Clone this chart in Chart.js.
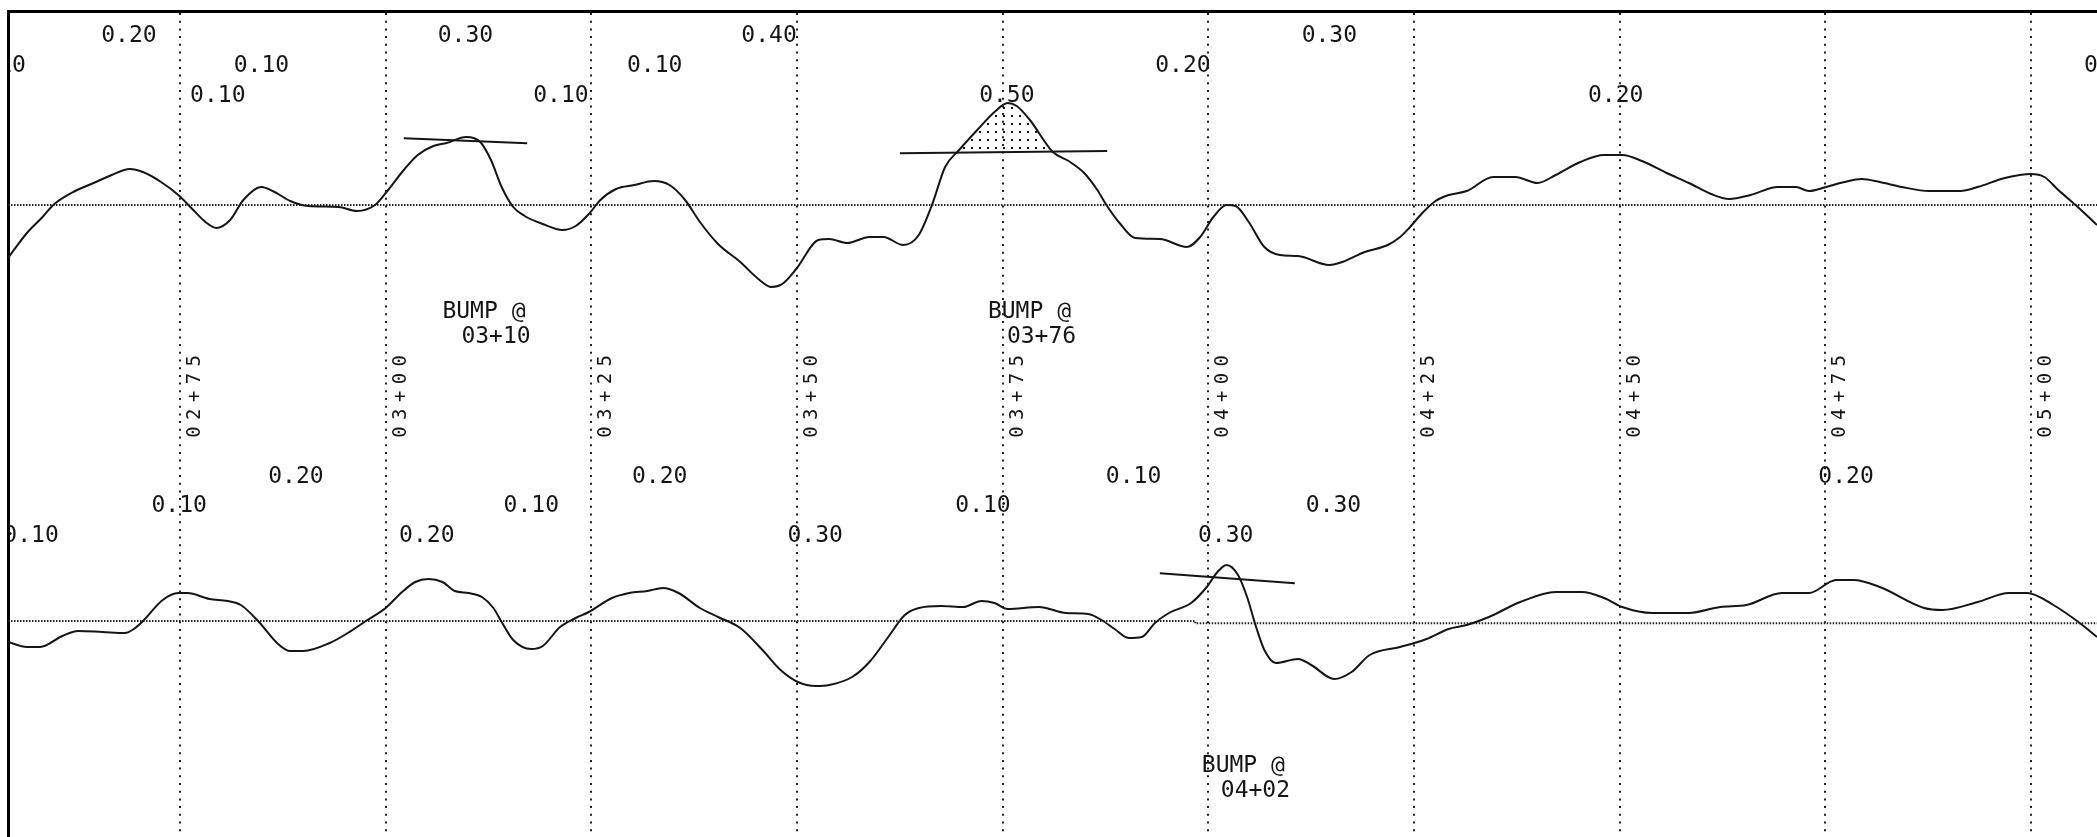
<!DOCTYPE html>
<html><head><meta charset="utf-8">
<script src="https://cdn.jsdelivr.net/npm/chart.js@4.4.1/dist/chart.umd.min.js"></script>
<style>html,body{margin:0;padding:0;background:#fff;overflow:hidden}canvas{display:block}</style>
</head><body>
<canvas id="c" width="2097" height="837"></canvas>
<script>
// ---- stationing (ft) ----
const X_MIN = 254.1, X_MAX = 508.0;
const stationValues = [275, 300, 325, 350, 375, 400, 425, 450, 475, 500];
const stationLabels = ['02+75','03+00','03+25','03+50','03+75','04+00','04+25','04+50','04+75','05+00'];

// ---- upper trace (deviation from its datum) ----
const topStations = [254.1,256.4,258.3,259.6,261.8,264.5,266.7,268.9,270.5,272.7,
  274.8,276.5,278.1,279.4,281.1,282.7,284.9,286.5,288.4,290.6,
  294.3,296.5,298.7,300.3,302.2,303.9,305.8,307.4,309.8,311.5,
  312.8,314.1,315.5,316.9,319.1,321.5,323.1,324.7,326.1,328.0,
  330.2,332.6,334.5,336.4,338.2,340.4,343.1,345.3,346.9,348.2,
  349.9,352.6,353.9,356.1,358.8,360.5,362.9,364.8,366.4,368.0,
  369.7,371.9,374.0,375.6,376.7,378.3,381.1,383.2,384.9,386.5,
  387.6,389.2,391.1,394.1,397.4,399.0,400.6,402.2,403.3,404.9,
  406.8,408.7,410.9,414.7,416.3,419.0,421.8,423.3,424.4,426.0,
  427.6,429.2,431.4,434.6,437.3,440.0,442.2,445.2,448.1,450.3,
  452.7,455.7,458.4,461.1,463.3,465.9,469.2,471.4,473.0,475.1,
  477.3,479.4,481.6,484.3,487.6,491.4,493.5,496.8,500.0,501.6,
  503.3,505.4,508.0];
const topValues = [-53,-28,-12,0,12,22,30,36,33,23,
  10,-4,-17,-23,-15,5,18,13,4,-1,
  -2,-6,0,15,35,50,59,62,68,63,
  45,18,-2,-11,-19,-25,-21,-9,5,16,
  20,24,20,5,-17,-39,-57,-74,-82,-79,
  -64,-35,-34,-38,-32,-32,-40,-30,0,38,
  55,75,93,102,99,85,53,43,32,15,
  0,-18,-33,-34,-42,-32,-12,0,-1,-17,
  -42,-50,-51,-60,-57,-47,-40,-32,-23,-8,
  4,10,14,28,28,22,30,43,50,50,
  44,32,22,11,6,10,18,18,14,18,
  23,26,23,18,14,14,18,27,31,28,
  15,0,-20];

// ---- lower trace ----
const botStations = [254.1,256.4,258.0,260.7,262.6,265.6,268.3,269.4,270.5,272.9,
  274.8,275.9,278.6,280.8,282.4,284.6,286.8,288.4,290.0,293.2,
  295.4,297.6,300.0,302.0,303.6,305.2,306.9,308.4,310.1,311.7,
  313.1,314.1,315.5,317.7,319.1,321.2,323.1,324.7,327.5,329.6,
  331.8,333.7,335.6,338.2,340.4,343.1,345.8,348.0,350.1,352.3,
  353.9,356.7,358.8,361.0,363.1,364.8,367.5,370.2,372.4,374.0,
  375.6,379.4,382.7,385.4,387.0,388.6,390.3,391.9,393.5,395.2,
  397.9,399.8,401.1,402.2,403.6,404.7,405.8,406.8,408.2,410.9,
  412.5,415.3,417.4,419.6,423.3,426.5,429.2,431.4,434.1,437.9,
  442.2,445.4,448.1,450.3,454.0,458.4,462.2,465.4,469.7,473.0,
  476.3,478.4,481.6,487.0,489.2,493.5,497.3,499.5,502.7,505.9,
  508.0];
const botValues = [-21,-26,-26,-15,-10,-11,-12,-8,0,21,
  28,28,22,20,16,-1,-22,-30,-30,-22,
  -12,0,13,29,39,42,39,30,28,24,
  13,-1,-19,-28,-25,-6,3,9,23,28,
  30,33,28,13,4,-7,-29,-49,-61,-65,
  -64,-56,-41,-17,6,13,15,14,20,18,
  12,14,8,7,1,-8,-17,-16,-2,8,
  18,34,49,56,46,24,-6,-29,-42,-38,
  -44,-58,-51,-34,-26,-18,-8,-4,4,19,
  29,29,23,14,8,8,14,16,28,28,
  41,41,34,13,11,19,28,28,16,-2,
  -16];

// ---- datums ----
const topDatumStations = [254.1, 508.0];
const topDatumValues = [0, 0];
const botDatumStations = [254.1, 398.4, 398.4, 508.0];
const botDatumValues = [0, 0, -2.3, -2.3];

// ---- blanking (bump template) lines ----
const bump1Stations = [302.2, 317.2];  const bump1Values = [66.7, 61.7];
const bump2Stations = [362.5, 387.7];  const bump2Values = [51.7, 54.0];
const bump3Stations = [394.1, 410.5];  const bump3Values = [47.7, 37.7];
// portion of the 03+76 bump above its template line (stippled)
const bumpAreaStations = [369.4, 369.7, 371.9, 374.0, 375.6, 376.7, 378.3, 381.1];
const bumpAreaValues   = [52.3, 55, 75, 93, 102, 99, 85, 53];
const bumpAreaLevel = 52.8;

// ---- annotations ----
const topScallopText    = ['0.20','0.30','0.40','0.30','0.10','0.10','0.10','0.20','0.10','0.10','0.10','0.50','0.20'];
const topScallopStation = [268.8,309.7,346.6,414.7,252.9,284.9,332.7,396.9,509.8,279.6,321.3,375.5,449.5];
const topScallopRow     = [0,0,0,0,1,1,1,1,1,2,2,2,2];
const botScallopText    = ['0.20','0.20','0.10','0.20','0.10','0.10','0.10','0.30','0.10','0.20','0.30','0.30'];
const botScallopStation = [289.1,333.3,390.9,477.5,274.9,317.7,372.6,415.2,256.9,305.0,352.2,402.1];
const botScallopRow     = [0,0,0,0,1,1,1,1,2,2,2,2];
const bumpStation = [306.9, 373.2, 399.2];
const bumpLocation = ['03+10', '03+76', '04+02'];
const bumpTrace = ['top', 'top', 'bot'];

// ---------------------------------------------------------------
const pts = (xs, ys) => xs.map((x, i) => ({x, y: ys[i]}));
const INK = '#151515';

const pc = document.createElement('canvas'); pc.width = 8; pc.height = 8;
const pg = pc.getContext('2d'); pg.fillStyle = INK; pg.fillRect(3, 3, 2, 2);
const canvas = document.getElementById('c');
const stipple = canvas.getContext('2d').createPattern(pc, 'repeat');

const lineDs = (data, axis, extra) => Object.assign({
  data, yAxisID: axis, borderColor: INK, borderWidth: 2, pointRadius: 0,
  fill: false, tension: 0
}, extra || {});

const FONT = '23px "DejaVu Sans Mono", "Liberation Mono", monospace';
const TOP_ROW_Y = [42, 72, 102];
const BOT_ROW_Y = [483, 512, 542];

const annot = {
  id: 'annot',
  afterDatasetsDraw(chart) {
    const ctx = chart.ctx, xs = chart.scales.x, a = chart.chartArea;
    ctx.save();
    ctx.beginPath(); ctx.rect(a.left + 2, a.top + 2, a.right - a.left, a.bottom - a.top); ctx.clip();
    ctx.fillStyle = INK; ctx.font = FONT; ctx.textBaseline = 'alphabetic'; ctx.textAlign = 'center';
    topScallopText.forEach((t, i) => ctx.fillText(t, xs.getPixelForValue(topScallopStation[i]), TOP_ROW_Y[topScallopRow[i]]));
    botScallopText.forEach((t, i) => ctx.fillText(t, xs.getPixelForValue(botScallopStation[i]), BOT_ROW_Y[botScallopRow[i]]));
    ctx.textAlign = 'left';
    bumpStation.forEach((s, i) => {
      const x = xs.getPixelForValue(s);
      const y = bumpTrace[i] === 'top' ? 318 : 772;
      ctx.fillText('BUMP @', x, y);
      ctx.fillText(bumpLocation[i], x + 19, y + 25);
    });
    // vertical station labels
    ctx.font = '19px "DejaVu Sans Mono", "Liberation Mono", monospace';
    ctx.textAlign = 'center';
    stationValues.forEach((s, i) => {
      const x = xs.getPixelForValue(s) + 20;
      const txt = stationLabels[i];
      for (let k = 0; k < txt.length; k++) {
        ctx.save();
        ctx.translate(x, 432 - k * 17.8);
        ctx.rotate(-Math.PI / 2);
        ctx.fillText(txt[k], 0, 0);
        ctx.restore();
      }
    });
    ctx.restore();
  }
};

new Chart(canvas, {
  type: 'line',
  data: {
    datasets: [
      lineDs(pts(bumpAreaStations, bumpAreaValues), 'yTop', {borderWidth: 0, fill: {value: bumpAreaLevel}, backgroundColor: stipple}),
      lineDs(pts(topStations, topValues), 'yTop', {cubicInterpolationMode: 'monotone'}),
      lineDs(pts(topDatumStations, topDatumValues), 'yTop', {borderDash: [1.5, 1.5], borderColor: '#222'}),
      lineDs(pts(bump1Stations, bump1Values), 'yTop'),
      lineDs(pts(bump2Stations, bump2Values), 'yTop'),
      lineDs(pts(botStations, botValues), 'yBot', {cubicInterpolationMode: 'monotone'}),
      lineDs(pts(botDatumStations, botDatumValues), 'yBot', {borderDash: [1.5, 1.5], borderColor: '#222'}),
      lineDs(pts(bump3Stations, bump3Values), 'yBot')
    ]
  },
  options: {
    responsive: false, animation: false, devicePixelRatio: 1,
    layout: {padding: {left: 8, top: 11, right: 0, bottom: 0}},
    plugins: {legend: {display: false}, tooltip: {enabled: false}, title: {display: false}},
    scales: {
      x: {
        type: 'linear', position: 'top', min: X_MIN, max: X_MAX,
        afterBuildTicks: s => { s.ticks = stationValues.map(v => ({value: v})); },
        ticks: {display: false},
        grid: {display: true, color: '#222', lineWidth: 2, drawTicks: false},
        border: {display: true, color: '#000', width: 3, dash: [2, 5.7]}
      },
      yTop: {
        type: 'linear', position: 'left', min: -632, max: 194,
        ticks: {display: false}, grid: {display: false, drawTicks: false},
        border: {display: true, color: '#000', width: 3}
      },
      yBot: {type: 'linear', position: 'left', display: false, min: -216, max: 610}
    }
  },
  plugins: [annot]
});
</script>
</body></html>
